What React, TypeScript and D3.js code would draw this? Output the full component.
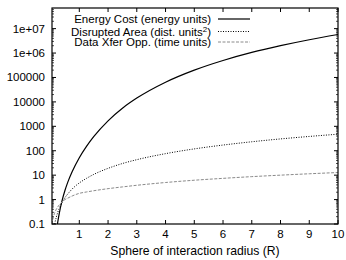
import * as d3 from "d3"

// sample radii (R) shared by all series
const radius = [0.05, 0.1, 0.15, 0.2, 0.25, 0.3, 0.4, 0.5, 0.6, 0.75, 1, 1.25, 1.5, 2, 2.5, 3, 4, 5, 6, 7, 8, 9, 10]

// values
const energyCost = [null, null, null, 0.046, 0.12, 0.26, 0.9, 2.36, 5.2, 13.8, 52, 151, 377, 1680, 5500, 14300, 64000, 200000, 497000, 1060000, 2000000, 3500000, 5750000]
const disruptedArea = [0.012, 0.048, 0.11, 0.19, 0.3, 0.43, 0.76, 1.2, 1.7, 2.7, 4.8, 7.4, 10.7, 19, 30, 43, 76, 119, 171, 233, 305, 385, 476]
const dataXfer = [0.1, 0.2, 0.3, 0.4, 0.5, 0.6, 0.8, 1.0, 1.15, 1.4, 1.8, 2.05, 2.3, 2.8, 3.3, 3.85, 5.0, 6.2, 7.4, 8.7, 10.0, 11.4, 12.8]

const xTicks = [1, 2, 3, 4, 5, 6, 7, 8, 9, 10]
const yTicks = [0.1, 1, 10, 100, 1000, 10000, 100000, 1000000, 10000000]
const yTickLabels = ["0.1", "1", "10", "100", "1000", "10000", "100000", "1e+06", "1e+07"]

const W = 346
const H = 260
const margin = { top: 8, right: 8, bottom: 36, left: 52 }
const font = "'Liberation Sans', Arial, Helvetica, sans-serif"

export default function App() {
  const x = d3.scaleLinear().domain([0.05, 10]).range([margin.left, W - margin.right])
  const y = d3.scaleLog().domain([0.1, 7e7]).range([H - margin.bottom, margin.top])

  const line = (vals: (number | null)[]) => {
    const pts = radius
      .map((r, i) => [r, vals[i]] as [number, number | null])
      .filter((d) => d[1] !== null) as [number, number][]
    return d3
      .line<[number, number]>()
      .x((d) => x(d[0]))
      .y((d) => y(d[1]))
      .curve(d3.curveMonotoneX)(pts) || ""
  }

  const x0 = margin.left
  const x1 = W - margin.right
  const y0 = H - margin.bottom
  const y1 = margin.top

  // minor log ticks 2..9 per decade
  const minor: number[] = []
  for (let e = -1; e <= 7; e++) {
    for (let k = 2; k <= 9; k++) {
      const v = k * Math.pow(10, e)
      if (v < 7e7) minor.push(v)
    }
  }

  const series = [
    { label: "Energy Cost (energy units)", vals: energyCost, stroke: "#000", dash: undefined, width: 1.2 },
    { label: "Disrupted Area (dist. units", vals: disruptedArea, stroke: "#000", dash: "1,1.5", width: 1 },
    { label: "Data Xfer Opp. (time units)", vals: dataXfer, stroke: "#8a8a8a", dash: "3,1.5", width: 1 },
  ]
  const legendY = [19, 31.5, 42]

  return (
    <svg width={W} height={H} style={{ position: "absolute", left: 0, top: 0, background: "#fff" }} fontFamily={font}>
      <defs>
        <clipPath id="plot">
          <rect x={x0} y={y1} width={x1 - x0} height={y0 - y1} />
        </clipPath>
      </defs>

      {/* ticks, all pointing inward, mirrored */}
      <g stroke="#000" strokeWidth={1}>
        {xTicks.map((t) => (
          <g key={t}>
            <line x1={x(t)} x2={x(t)} y1={y0} y2={y0 - 4} />
            <line x1={x(t)} x2={x(t)} y1={y1} y2={y1 + 4} />
          </g>
        ))}
        {yTicks.map((t) => (
          <g key={t}>
            <line x1={x0} x2={x0 + 4} y1={y(t)} y2={y(t)} />
            <line x1={x1} x2={x1 - 4} y1={y(t)} y2={y(t)} />
          </g>
        ))}
        {minor.map((t) => (
          <g key={t}>
            <line x1={x0} x2={x0 + 2} y1={y(t)} y2={y(t)} strokeWidth={0.7} />
            <line x1={x1} x2={x1 - 2} y1={y(t)} y2={y(t)} strokeWidth={0.7} />
          </g>
        ))}
      </g>

      <g fontSize={11.5} fill="#000">
        {xTicks.map((t) => (
          <text key={t} x={x(t)} y={y0 + 14} textAnchor="middle">
            {t}
          </text>
        ))}
        {yTicks.map((t, i) => (
          <text key={t} x={x0 - 7} y={y(t) + 4} textAnchor="end">
            {yTickLabels[i]}
          </text>
        ))}
        <text x={(x0 + x1) / 2} y={H - 5} textAnchor="middle" fontSize={12.2}>
          Sphere of interaction radius (R)
        </text>
      </g>

      <g clipPath="url(#plot)" fill="none">
        {series.map((s) => (
          <path key={s.label} d={line(s.vals)} stroke={s.stroke} strokeWidth={s.width} strokeDasharray={s.dash} />
        ))}
      </g>

      {/* legend */}
      <g fontSize={11.5}>
        {series.map((s, i) => (
          <g key={s.label}>
            <text x={211} y={legendY[i] + 4} textAnchor="end">
              {s.label}
              {i === 1 && (
                <>
                  <tspan fontSize={8} dy={-4}>2</tspan>
                  <tspan dy={4}>)</tspan>
                </>
              )}
            </text>
            <line x1={218} x2={250} y1={legendY[i]} y2={legendY[i]} stroke={s.stroke} strokeWidth={s.width} strokeDasharray={s.dash} />
          </g>
        ))}
      </g>

      <rect x={x0} y={y1} width={x1 - x0} height={y0 - y1} fill="none" stroke="#000" strokeWidth={1.2} />
    </svg>
  )
}
